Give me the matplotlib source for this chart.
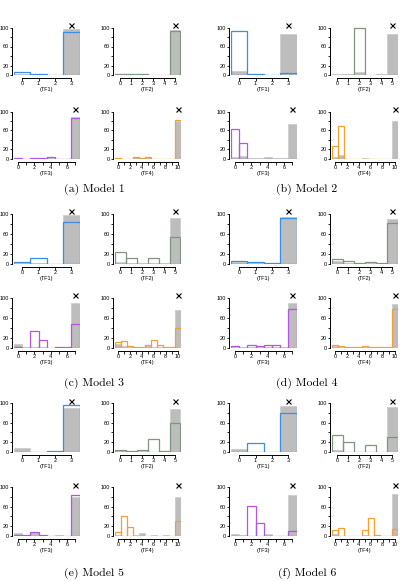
import numpy as np
import matplotlib.pyplot as plt

plt.rcParams['font.family'] = ['Liberation Sans', 'DejaVu Sans']

# colours of the four features
colors = ['#3a8ee6', '#7d967d', '#b455e0', '#f0a035']
feat_labels = ['(TF1)', '(TF2)', '(TF3)', '(TF4)']
captions = ['(a) Model 1', '(b) Model 2', '(c) Model 3',
            '(d) Model 4', '(e) Model 5', '(f) Model 6']

# percentages per bin, coloured outline (model) and grey fill (reference)
pred_m1 = [[6, 2, 1, 91], [2, 2, 2, 1, 1, 92],
           [3, 1, 2, 2, 4, 1, 1, 86], [3, 1, 0, 5, 2, 5, 1, 0, 0, 0, 83]]
ref_m1 = [[2, 1, 1, 96], [2, 1, 1, 1, 1, 94],
          [2, 1, 2, 2, 3, 1, 1, 88], [3, 1, 1, 4, 2, 4, 1, 1, 1, 1, 81]]

pred_m2 = [[92, 3, 1, 4], [0, 0, 100, 0, 0, 0],
           [63, 34, 1, 1, 1, 0, 0, 0], [27, 70, 1, 1, 0, 0, 0, 0, 0, 0, 1]]
ref_m2 = [[9, 3, 1, 87], [2, 3, 7, 0, 2, 86],
          [5, 6, 3, 2, 5, 3, 3, 73], [4, 9, 1, 1, 1, 3, 1, 0, 0, 0, 79]]

pred_m3 = [[4, 12, 0, 84], [23, 12, 0, 12, 0, 53],
           [1, 0, 34, 15, 0, 1, 1, 48], [12, 13, 3, 1, 2, 6, 16, 5, 1, 1, 40]]
ref_m3 = [[2, 1, 0, 97], [4, 1, 1, 1, 1, 92],
          [7, 1, 1, 1, 0, 1, 0, 89], [8, 3, 2, 1, 2, 3, 2, 1, 1, 1, 76]]

pred_m4 = [[5, 3, 1, 91], [9, 5, 1, 3, 1, 81],
           [4, 0, 5, 3, 5, 5, 0, 78], [5, 4, 1, 1, 1, 4, 2, 1, 2, 1, 78]]
ref_m4 = [[3, 2, 1, 94], [5, 2, 1, 1, 1, 90],
          [1, 1, 2, 2, 2, 2, 1, 89], [3, 1, 1, 1, 1, 2, 1, 1, 1, 1, 87]]

pred_m5 = [[1, 1, 2, 96], [4, 2, 5, 27, 2, 60],
           [2, 2, 9, 3, 0, 0, 0, 84], [8, 40, 18, 1, 1, 0, 1, 0, 1, 0, 30]]
ref_m5 = [[9, 1, 1, 89], [5, 3, 2, 1, 2, 87],
          [6, 2, 9, 1, 1, 2, 0, 79], [3, 1, 1, 2, 6, 1, 2, 1, 2, 1, 80]]

pred_m6 = [[1, 19, 1, 79], [34, 20, 0, 15, 0, 31],
           [1, 1, 61, 27, 0, 0, 0, 10], [13, 16, 1, 1, 1, 13, 37, 2, 1, 1, 14]]
ref_m6 = [[7, 0, 0, 93], [4, 1, 1, 1, 1, 92],
          [5, 2, 1, 1, 5, 1, 1, 84], [4, 1, 1, 1, 1, 2, 1, 1, 1, 1, 86]]

preds = [pred_m1, pred_m2, pred_m3, pred_m4, pred_m5, pred_m6]
refs = [ref_m1, ref_m2, ref_m3, ref_m4, ref_m5, ref_m6]

W, H = 408, 581
fig = plt.figure(figsize=(W / 100, H / 100), dpi=100)

# layout in pixels
col_x = [14, 231]
sub_dx = 101
ax_w = 65.5
row_zero = [(75, 159), (264, 348), (452, 536)]
row_scale = [47.5, 50.5, 49.0]
cap_x = [94, 307]
cap_y = [189, 383, 573]
ytop = 110


def panel(x0, zero, scale, pred, ref, color, label):
    h = ytop / 100 * scale
    ax = fig.add_axes([x0 / W, (H - zero) / H, ax_w / W, h / H])
    n = len(pred)
    x = np.arange(n)
    ax.bar(x, ref, width=1, color='#bdbdbd', edgecolor='#cdcdcd', lw=0.6, zorder=1)
    ax.bar(x, pred, width=1, fill=False, edgecolor=color, lw=0.9, zorder=2)
    ax.plot(n - 1, 105, marker='x', color='k', ms=3.6, mew=0.8, clip_on=False, zorder=3)
    ax.set_xlim(-0.5, n - 0.5)
    ax.set_ylim(0, ytop)
    ax.set_yticks([0, 20, 40, 60, 80, 100])
    ax.set_yticklabels(['0', '20', '', '60', '', '100'])
    ax.set_xticks(x)
    step = 1 if n <= 6 else 2
    ax.set_xticklabels([str(i) if i % step == 0 else '' for i in x])
    plt.setp(ax.get_yticklabels(), rotation=90, va='center')
    ax.tick_params(labelsize=4, length=1.8, width=0.6, pad=0.8)
    ax.tick_params(axis='y', pad=0.3)
    ax.set_xlabel(label, fontsize=4, labelpad=0.5)
    for s in ['top', 'right']:
        ax.spines[s].set_visible(False)
    ax.spines['left'].set_position(('outward', 1.5))
    ax.spines['bottom'].set_position(('outward', 2))
    ax.spines['left'].set_bounds(0, 100)
    ax.spines['bottom'].set_bounds(0, n - 1)
    for s in ['left', 'bottom']:
        ax.spines[s].set_linewidth(0.7)
    ax.patch.set_visible(False)


for m in range(6):
    r, c = divmod(m, 2)
    zt, zb = row_zero[r]
    sc = row_scale[r]
    for k in range(4):
        x0 = col_x[c] + (k % 2) * sub_dx
        zero = zt if k < 2 else zb
        panel(x0, zero, sc, preds[m][k], refs[m][k], colors[k], feat_labels[k])
    fig.text(cap_x[c] / W, 1 - cap_y[r] / H, captions[m], ha='center', va='center',
             fontfamily='cmr10', fontsize=8.5)

fig.savefig('out.png', dpi=100)
